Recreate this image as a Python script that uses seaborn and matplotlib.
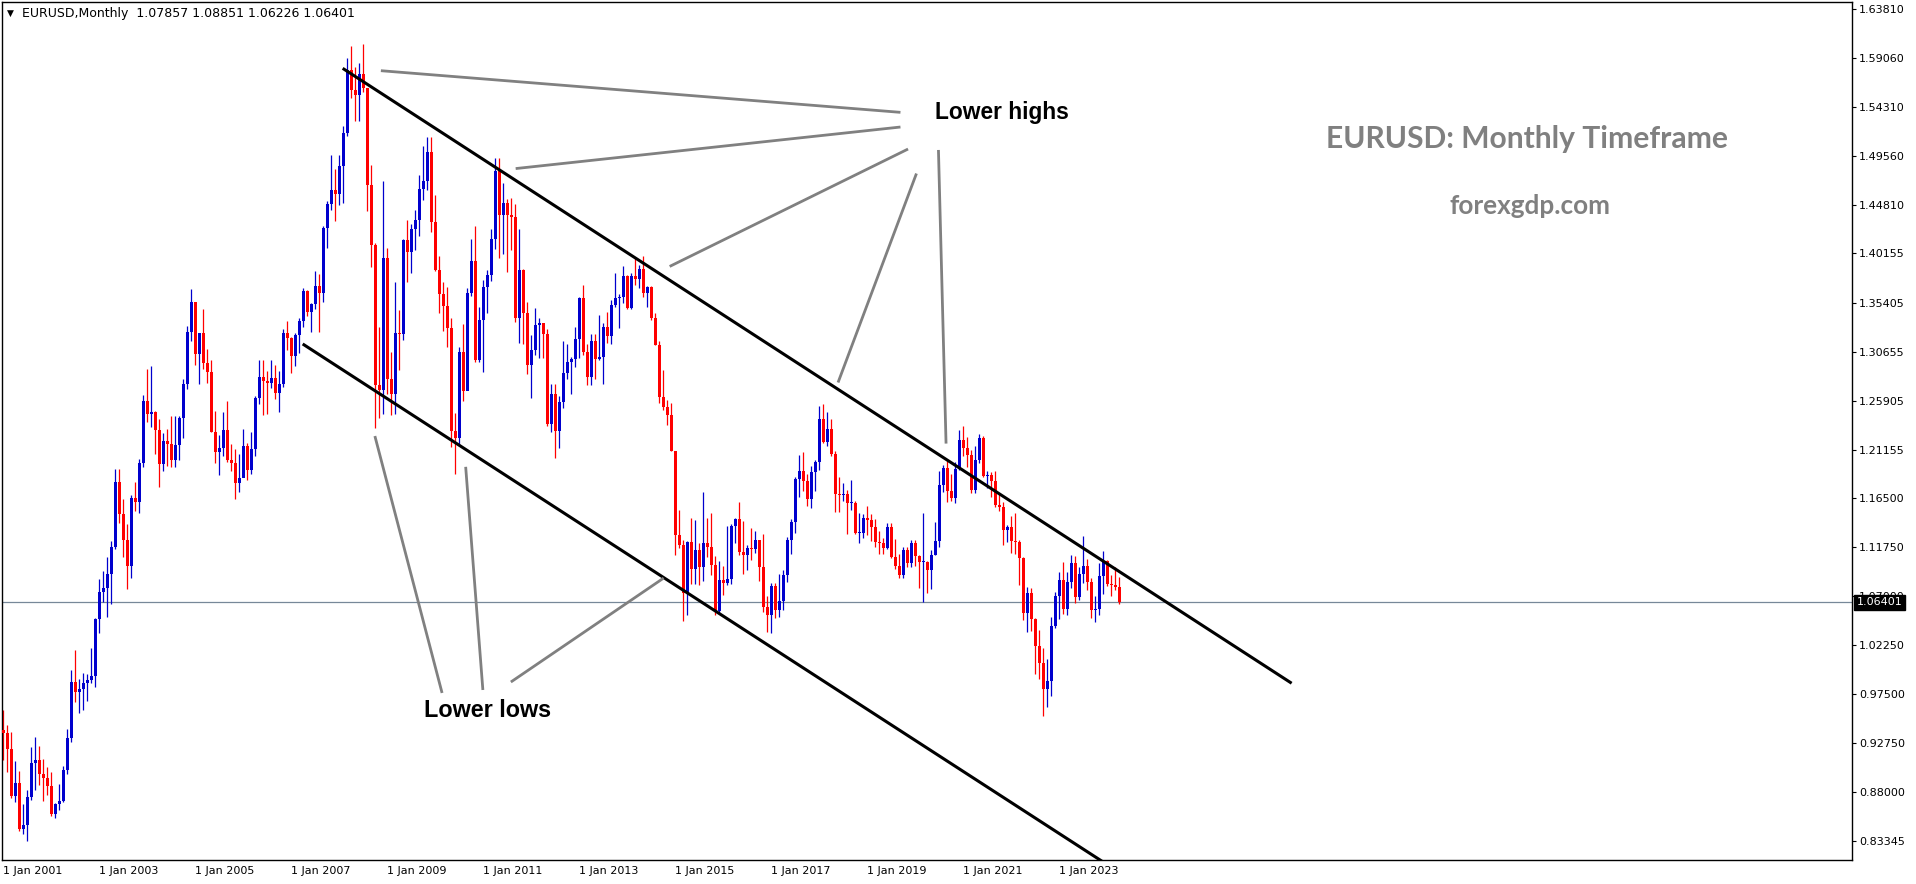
import numpy as np
import pandas as pd
import matplotlib
matplotlib.use("Agg")
import matplotlib.pyplot as plt
import matplotlib.transforms as mtransforms
import seaborn as sns

# monthly EURUSD candles, Jan 2001 .. Apr 2024
first_open = 0.9400

high_prices = [
    0.9595, 0.9450, 0.9390, 0.9100, 0.9010, 0.8690, 0.8820, 0.9240, 0.9340, 0.9250, 0.9120, 0.9050,  # 2001
    0.9000, 0.8700, 0.8880, 0.9060, 0.9410, 0.9990, 1.0180, 0.9900, 0.9960, 0.9950, 1.0200, 1.0490,  # 2002
    1.0870, 1.0940, 1.1080, 1.1230, 1.1930, 1.1930, 1.1640, 1.1400, 1.1680, 1.1800, 1.2030, 1.2650,  # 2003
    1.2900, 1.2930, 1.2490, 1.2410, 1.2280, 1.2320, 1.2440, 1.2440, 1.2440, 1.2800, 1.3310, 1.3670,  # 2004
    1.3550, 1.3250, 1.3480, 1.3090, 1.2980, 1.2490, 1.2260, 1.2480, 1.2590, 1.2170, 1.2120, 1.2080,  # 2005
    1.2320, 1.2180, 1.2290, 1.2640, 1.2980, 1.2980, 1.2880, 1.2980, 1.2940, 1.2880, 1.3280, 1.3360,  # 2006
    1.3210, 1.3250, 1.3390, 1.3680, 1.3660, 1.3540, 1.3850, 1.3820, 1.4280, 1.4520, 1.4970, 1.4830,  # 2007
    1.4970, 1.5250, 1.5910, 1.6020, 1.5820, 1.5860, 1.6040, 1.5620, 1.4870, 1.4120, 1.3300, 1.4720,  # 2008
    1.4070, 1.3060, 1.3740, 1.3470, 1.4160, 1.4340, 1.4300, 1.4440, 1.4770, 1.5060, 1.5140, 1.5140,  # 2009
    1.4580, 1.3990, 1.3740, 1.3690, 1.3390, 1.2470, 1.3110, 1.3330, 1.3680, 1.4160, 1.4280, 1.3500,  # 2010
    1.3760, 1.3860, 1.4250, 1.4940, 1.4940, 1.4700, 1.4540, 1.4550, 1.4490, 1.4250, 1.3870, 1.3550,  # 2011
    1.3230, 1.3490, 1.3390, 1.3280, 1.3280, 1.2750, 1.2750, 1.2640, 1.3170, 1.3140, 1.3010, 1.3300,  # 2012
    1.3590, 1.3710, 1.3140, 1.3240, 1.3240, 1.3420, 1.3340, 1.3450, 1.3570, 1.3830, 1.3620, 1.3890,  # 2013
    1.3810, 1.3830, 1.3970, 1.3900, 1.3990, 1.3700, 1.3700, 1.3440, 1.3170, 1.2890, 1.2600, 1.2570,  # 2014
    1.2100, 1.1530, 1.1240, 1.1230, 1.1460, 1.1440, 1.1210, 1.1710, 1.1460, 1.1500, 1.1090, 1.1040,  # 2015
    1.0990, 1.1380, 1.1400, 1.1460, 1.1610, 1.1430, 1.1190, 1.1360, 1.1330, 1.1240, 1.1300, 1.0700,  # 2016
    1.0830, 1.0830, 1.0910, 1.0950, 1.1270, 1.1450, 1.1850, 1.2070, 1.2090, 1.1880, 1.1960, 1.2020,  # 2017
    1.2540, 1.2560, 1.2480, 1.2410, 1.2100, 1.1850, 1.1790, 1.1730, 1.1820, 1.1620, 1.1500, 1.1490,  # 2018
    1.1570, 1.1490, 1.1450, 1.1330, 1.1260, 1.1410, 1.1410, 1.1250, 1.1110, 1.1180, 1.1180, 1.1240,  # 2019
    1.1240, 1.1100, 1.1500, 1.1040, 1.1150, 1.1420, 1.1910, 1.1970, 1.2010, 1.1880, 1.2000, 1.2310,  # 2020
    1.2350, 1.2240, 1.2110, 1.2150, 1.2270, 1.2250, 1.1910, 1.1900, 1.1910, 1.1690, 1.1610, 1.1390,  # 2021
    1.1480, 1.1500, 1.1240, 1.1080, 1.0790, 1.0780, 1.0490, 1.0370, 1.0200, 1.0090, 1.0500, 1.0740,  # 2022
    1.0930, 1.1030, 1.0930, 1.1100, 1.1090, 1.0980, 1.1280, 1.1060, 1.0880, 1.0700, 1.1020, 1.1140,  # 2023
    1.1050, 1.0900, 1.0980, 1.08851,                                                                # 2024
]

low_prices = [
    0.9110, 0.9000, 0.8750, 0.8710, 0.8430, 0.8400, 0.8330, 0.8730, 0.8820, 0.8870, 0.8720, 0.8780,  # 2001
    0.8570, 0.8550, 0.8630, 0.8710, 0.8980, 0.9290, 0.9680, 0.9570, 0.9600, 0.9690, 0.9860, 0.9820,  # 2002
    1.0340, 1.0640, 1.0500, 1.0620, 1.1160, 1.1410, 1.1080, 1.0770, 1.0880, 1.1520, 1.1500, 1.1950,  # 2003
    1.2380, 1.2340, 1.2080, 1.1760, 1.1910, 1.1960, 1.1950, 1.1950, 1.2020, 1.2230, 1.2700, 1.3170,  # 2004
    1.2940, 1.2750, 1.2900, 1.2760, 1.2290, 1.1990, 1.1870, 1.2060, 1.2000, 1.1910, 1.1640, 1.1710,  # 2005
    1.1980, 1.1820, 1.1880, 1.2060, 1.2560, 1.2450, 1.2460, 1.2710, 1.2610, 1.2480, 1.2720, 1.3080,  # 2006
    1.2860, 1.2930, 1.3050, 1.3300, 1.3410, 1.3260, 1.3480, 1.3260, 1.3550, 1.4070, 1.4440, 1.4330,  # 2007
    1.4480, 1.4500, 1.5150, 1.5520, 1.5300, 1.5300, 1.5580, 1.4430, 1.3880, 1.2330, 1.2420, 1.2460,  # 2008
    1.2660, 1.2450, 1.2460, 1.2890, 1.3180, 1.3740, 1.3830, 1.4050, 1.4180, 1.4530, 1.4630, 1.4220,  # 2009
    1.3850, 1.3440, 1.3270, 1.3110, 1.2140, 1.1880, 1.2150, 1.2590, 1.2690, 1.3600, 1.2970, 1.2970,  # 2010
    1.2870, 1.3440, 1.3750, 1.4060, 1.3970, 1.4010, 1.3840, 1.4050, 1.3350, 1.3150, 1.3140, 1.2850,  # 2011
    1.2620, 1.3030, 1.3000, 1.3000, 1.2350, 1.2290, 1.2040, 1.2130, 1.2520, 1.2800, 1.2660, 1.2920,  # 2012
    1.3000, 1.3030, 1.2740, 1.2740, 1.2800, 1.2980, 1.2750, 1.3150, 1.3140, 1.3500, 1.3290, 1.3540,  # 2013
    1.3480, 1.3480, 1.3710, 1.3680, 1.3590, 1.3500, 1.3370, 1.3130, 1.2570, 1.2500, 1.2360, 1.2100,  # 2014
    1.1100, 1.1170, 1.0460, 1.0520, 1.0820, 1.0820, 1.0810, 1.0850, 1.1080, 1.0900, 1.0520, 1.0530,  # 2015
    1.0710, 1.0810, 1.0820, 1.1210, 1.1100, 1.0910, 1.0950, 1.1050, 1.1120, 1.0850, 1.0550, 1.0350,  # 2016
    1.0340, 1.0490, 1.0500, 1.0570, 1.0840, 1.1110, 1.1310, 1.1660, 1.1720, 1.1570, 1.1550, 1.1720,  # 2017
    1.1920, 1.2180, 1.2150, 1.2060, 1.1510, 1.1510, 1.1620, 1.1300, 1.1530, 1.1300, 1.1210, 1.1260,  # 2018
    1.1290, 1.1230, 1.1180, 1.1110, 1.1110, 1.1160, 1.1070, 1.0960, 1.0880, 1.0880, 1.0980, 1.0980,  # 2019
    1.0990, 1.0780, 1.0640, 1.0730, 1.0770, 1.1100, 1.1180, 1.1710, 1.1610, 1.1620, 1.1600, 1.1920,  # 2020
    1.2060, 1.1950, 1.1700, 1.1700, 1.1990, 1.1850, 1.1750, 1.1660, 1.1560, 1.1520, 1.1190, 1.1220,  # 2021
    1.1120, 1.1110, 1.0810, 1.0470, 1.0350, 1.0360, 0.9950, 0.9900, 0.9540, 0.9630, 0.9730, 1.0390,  # 2022
    1.0480, 1.0530, 1.0520, 1.0780, 1.0630, 1.0660, 1.0830, 1.0760, 1.0490, 1.0450, 1.0520, 1.0720,  # 2023
    1.0800, 1.0700, 1.0760, 1.06226,                                                                # 2024
]

close_prices = [
    0.9375, 0.9225, 0.8770, 0.8890, 0.8450, 0.8490, 0.8760, 0.9090, 0.9110, 0.8980, 0.8940, 0.8860,  # 2001
    0.8590, 0.8690, 0.8720, 0.9020, 0.9330, 0.9870, 0.9770, 0.9800, 0.9860, 0.9890, 0.9930, 1.0480,  # 2002
    1.0740, 1.0780, 1.0910, 1.1180, 1.1800, 1.1490, 1.1240, 1.0990, 1.1650, 1.1610, 1.1990, 1.2590,  # 2003
    1.2460, 1.2480, 1.2310, 1.1980, 1.2200, 1.2170, 1.2020, 1.2160, 1.2420, 1.2750, 1.3260, 1.3550,  # 2004
    1.3040, 1.3250, 1.2960, 1.2870, 1.2290, 1.2090, 1.2130, 1.2310, 1.2020, 1.1990, 1.1790, 1.1840,  # 2005
    1.2150, 1.1920, 1.2120, 1.2620, 1.2820, 1.2780, 1.2760, 1.2810, 1.2670, 1.2750, 1.3250, 1.3200,  # 2006
    1.3020, 1.3230, 1.3360, 1.3650, 1.3450, 1.3530, 1.3700, 1.3630, 1.4260, 1.4490, 1.4630, 1.4590,  # 2007
    1.4860, 1.5180, 1.5790, 1.5600, 1.5550, 1.5750, 1.5620, 1.4680, 1.4100, 1.2740, 1.2690, 1.3970,  # 2008
    1.2800, 1.2660, 1.3250, 1.3240, 1.4150, 1.4030, 1.4250, 1.4340, 1.4640, 1.4720, 1.5000, 1.4320,  # 2009
    1.3860, 1.3620, 1.3510, 1.3290, 1.2300, 1.2230, 1.3060, 1.2680, 1.3630, 1.3940, 1.2980, 1.3370,  # 2010
    1.3690, 1.3810, 1.4160, 1.4810, 1.4390, 1.4500, 1.4390, 1.4370, 1.3390, 1.3860, 1.3440, 1.2940,  # 2011
    1.3080, 1.3320, 1.3340, 1.3240, 1.2370, 1.2660, 1.2300, 1.2580, 1.2860, 1.2970, 1.2990, 1.3190,  # 2012
    1.3580, 1.3060, 1.2820, 1.3170, 1.2990, 1.3010, 1.3300, 1.3220, 1.3520, 1.3580, 1.3590, 1.3800,  # 2013
    1.3490, 1.3800, 1.3770, 1.3870, 1.3630, 1.3690, 1.3390, 1.3130, 1.2630, 1.2530, 1.2450, 1.2100,  # 2014
    1.1290, 1.1190, 1.0730, 1.1220, 1.0960, 1.1150, 1.0980, 1.1210, 1.1180, 1.1000, 1.0560, 1.0860,  # 2015
    1.0830, 1.0870, 1.1380, 1.1450, 1.1130, 1.1100, 1.1170, 1.1160, 1.1240, 1.0980, 1.0590, 1.0520,  # 2016
    1.0800, 1.0570, 1.0650, 1.0900, 1.1240, 1.1420, 1.1830, 1.1910, 1.1810, 1.1640, 1.1900, 1.2000,  # 2017
    1.2410, 1.2190, 1.2320, 1.2080, 1.1690, 1.1680, 1.1690, 1.1600, 1.1600, 1.1310, 1.1310, 1.1460,  # 2018
    1.1440, 1.1370, 1.1220, 1.1210, 1.1170, 1.1370, 1.1080, 1.0990, 1.0900, 1.1150, 1.1020, 1.1210,  # 2019
    1.1090, 1.1030, 1.1030, 1.0950, 1.1100, 1.1230, 1.1780, 1.1940, 1.1720, 1.1650, 1.1930, 1.2210,  # 2020
    1.2130, 1.2070, 1.1730, 1.2020, 1.2230, 1.1860, 1.1870, 1.1810, 1.1580, 1.1560, 1.1340, 1.1370,  # 2021
    1.1230, 1.1220, 1.1070, 1.0540, 1.0730, 1.0480, 1.0220, 1.0050, 0.9800, 0.9880, 1.0410, 1.0700,  # 2022
    1.0860, 1.0580, 1.0840, 1.1020, 1.0690, 1.0910, 1.0990, 1.0840, 1.0570, 1.0580, 1.0890, 1.1040,  # 2023
    1.0820, 1.0810, 1.07857, 1.06401,                                                               # 2024
]

last_price = 1.06401
header = "EURUSD,Monthly  1.07857 1.08851 1.06226 1.06401"

y_tick_values = [1.63810, 1.59060, 1.54310, 1.49560, 1.44810, 1.40155, 1.35405, 1.30655, 1.25905,
                 1.21155, 1.16500, 1.11750, 1.07000, 1.02250, 0.97500, 0.92750, 0.88000, 0.83345]

# hand-drawn lines on the chart, as (month index, price) end points
upper_channel = [(84.85, 1.5807), (322.1, 0.9857)]
lower_channel = [(74.85, 1.3140), (276.0, 0.8102)]
lower_high_pointers = [
    [(94.4, 1.5784), (224.3, 1.5381)],
    [(128.1, 1.4837), (224.3, 1.5239)],
    [(166.6, 1.3890), (226.2, 1.5026)],
    [(208.7, 1.2767), (228.3, 1.4789)],
    [(233.8, 1.5017), (235.7, 1.2176)],
]
lower_low_pointers = [
    [(92.9, 1.2249), (109.7, 0.9763)],
    [(115.6, 1.1951), (119.9, 0.9792)],
    [(126.9, 0.9869), (165.1, 1.0875)],
]

dates = pd.date_range("2001-01-01", periods=len(close_prices), freq="MS")
df = pd.DataFrame({"date": dates, "high": high_prices, "low": low_prices, "close": close_prices})
df["open"] = [first_open] + close_prices[:-1]
df["x"] = np.arange(len(df))
df["bull"] = df["close"] >= df["open"]

sns.set_style("white")
plt.rcParams["font.family"] = ["DejaVu Sans"]

fig = plt.figure(figsize=(19.16, 8.84), dpi=100)
ax = fig.add_axes([2 / 1916, 24 / 884, 1850 / 1916, 858 / 884])

bull_color = "#0000CD"
bear_color = "#FF0000"
colors = np.where(df["bull"], bull_color, bear_color)

ax.vlines(df["x"], df["low"], df["high"], colors=colors, linewidth=0.9, zorder=2)
body_low = df[["open", "close"]].min(axis=1)
body_h = (df["close"] - df["open"]).abs().clip(lower=0.0009)
ax.bar(df["x"], body_h, bottom=body_low, width=0.75, color=colors, linewidth=0, zorder=3)

ax.axhline(last_price, color="#778899", linewidth=0.9, zorder=1)

for pts in [upper_channel, lower_channel]:
    ax.plot([p[0] for p in pts], [p[1] for p in pts], color="black", linewidth=2.2,
            solid_capstyle="butt", zorder=4)
for seg in lower_high_pointers + lower_low_pointers:
    ax.plot([p[0] for p in seg], [p[1] for p in seg], color="#808080", linewidth=2.0,
            solid_capstyle="butt", zorder=4)

ax.text(232.9, 1.5384, "Lower highs", fontsize=16.4, fontweight="bold", color="black",
        family="Liberation Sans", ha="left", va="center", zorder=5)
ax.text(105.2, 0.9589, "Lower lows", fontsize=16.8, fontweight="bold", color="black",
        family="Liberation Sans", ha="left", va="center", zorder=5)

ax.text(0.8243, 0.8405, "EURUSD: Monthly Timeframe", transform=ax.transAxes, fontsize=21.6,
        fontweight="bold", color="#808080", family="Lato", ha="center", va="center")
ax.text(0.826, 0.762, "forexgdp.com", transform=ax.transAxes, fontsize=18.8,
        fontweight="bold", color="#808080", family="Lato", ha="center", va="center")

ax.set_xlim(-0.325, 462.2)
ax.set_ylim(0.81468, 1.64487)

tick_idx = df.index[(df["date"].dt.month == 1) & (df["date"].dt.year % 2 == 1)]
ax.set_xticks(df.loc[tick_idx, "x"])
ax.set_xticklabels(["1 Jan %d" % d.year for d in df.loc[tick_idx, "date"]])
for lbl in ax.get_xticklabels():
    lbl.set_horizontalalignment("left")

ax.yaxis.tick_right()
ax.set_yticks(y_tick_values)
ax.set_yticklabels(["%.5f" % v for v in y_tick_values])

ax.tick_params(axis="x", direction="out", length=3, width=0.8, pad=1, labelsize=8, colors="black")
ax.tick_params(axis="y", direction="out", length=3, width=0.8, pad=2, labelsize=8, colors="black")
ax.grid(False)
for side in ["top", "bottom", "left", "right"]:
    ax.spines[side].set_visible(True)
    ax.spines[side].set_color("black")
    ax.spines[side].set_linewidth(1.0)

price_tr = mtransforms.blended_transform_factory(ax.transAxes, ax.transData)
ax.text(1.0025, last_price, "%.5f" % last_price, transform=price_tr, fontsize=8, color="white",
        ha="left", va="center", clip_on=False, zorder=6,
        bbox=dict(boxstyle="square,pad=0.25", facecolor="black", edgecolor="black"))

fig.text(7 / 1916, 1 - 13 / 884, "\u25BC", fontsize=6.5, color="black", ha="left", va="center")
fig.text(22 / 1916, 1 - 13 / 884, header, fontsize=9, color="black", ha="left", va="center")

fig.savefig("out.png", dpi=100, facecolor="white")
